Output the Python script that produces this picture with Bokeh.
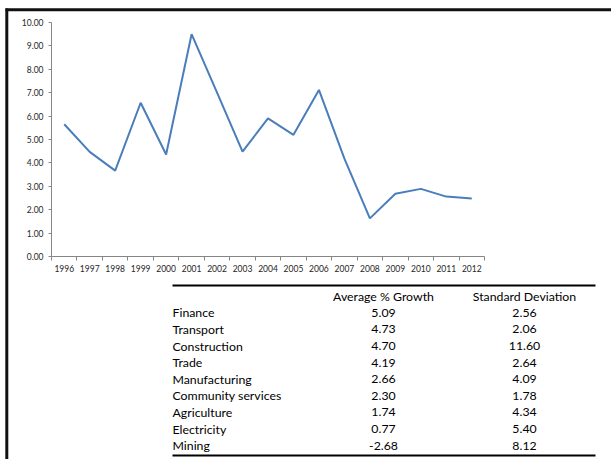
from bokeh.plotting import figure
from bokeh.models import Range1d, FixedTicker, NumeralTickFormatter
from bokeh.core.properties import value
from bokeh.embed import file_html
from bokeh.resources import INLINE

# ---- data ----
years = ["1996", "1997", "1998", "1999", "2000", "2001", "2002", "2003", "2004",
         "2005", "2006", "2007", "2008", "2009", "2010", "2011", "2012"]
growth = [5.65, 4.47, 3.67, 6.57, 4.36, 9.50, 7.00, 4.48, 5.90,
          5.20, 7.12, 4.18, 1.63, 2.68, 2.89, 2.56, 2.48]
y_ticks = [0, 1, 2, 3, 4, 5, 6, 7, 8, 9, 10]

sectors = ["Finance", " Transport", "Construction", " Trade", "Manufacturing",
           "Community services", "Agriculture", "Electricity", " Mining"]
avg_growth = [5.09, 4.73, 4.70, 4.19, 2.66, 2.30, 1.74, 0.77, -2.68]
std_dev = [2.56, 2.06, 11.60, 2.64, 4.09, 1.78, 4.34, 5.40, 8.12]
headers = ["Average % Growth", "Standard Deviation"]

FONT = "Lato"
AXIS_GRAY = "#868686"
LINE_BLUE = "#4A7EBB"

W, H = 611, 459
# chart plotting area in page pixels
PX_LEFT, PX_RIGHT, PX_TOP, PX_BOTTOM = 51.0, 484.0, 22.0, 256.0
n = len(years)
x0_data, x1_data = -0.5, n - 0.5
y0_data, y1_data = 0.0, 10.0
sx = (PX_RIGHT - PX_LEFT) / (x1_data - x0_data)
sy = (PX_BOTTOM - PX_TOP) / (y1_data - y0_data)
x_range = Range1d(x0_data - PX_LEFT / sx, x1_data + (W - PX_RIGHT) / sx)
y_range = Range1d(y0_data - (H - PX_BOTTOM) / sy, y1_data + PX_TOP / sy)

p = figure(width=W, height=H, x_range=x_range, y_range=y_range,
           min_border=0, toolbar_location=None, output_backend="svg")
p.extra_x_ranges = {"px": Range1d(0, W)}
p.extra_y_ranges = {"px": Range1d(H, 0)}
p.grid.grid_line_color = None
p.outline_line_color = None
p.background_fill_color = "white"
p.border_fill_color = "white"

# ---- page frame (left and top rule) ----
p.segment(x0=[6.3, 5], y0=[8, 9.3], x1=[6.3, W], y1=[H, 9.3],
          line_color="#111111", line_width=3,
          x_range_name="px", y_range_name="px")

# ---- line chart ----
xs = list(range(n))
p.line(x=xs, y=growth, line_color=LINE_BLUE, line_width=2)

xa = p.xaxis[0]
xa.fixed_location = y0_data
xa.bounds = (x0_data, x1_data)
xa.ticker = FixedTicker(ticks=xs, minor_ticks=[i - 0.5 for i in range(n + 1)])
xa.major_label_overrides = {i: y for i, y in enumerate(years)}
xa.major_tick_out = 0
xa.major_tick_in = 0
xa.minor_tick_out = 4
xa.minor_tick_in = 0
xa.minor_tick_line_color = AXIS_GRAY
xa.major_label_standoff = 4

ya = p.yaxis[0]
ya.fixed_location = x0_data
ya.bounds = (y0_data, y1_data)
ya.ticker = FixedTicker(ticks=y_ticks)
ya.formatter = NumeralTickFormatter(format="0.00")
ya.major_tick_out = 3
ya.major_tick_in = 0
ya.minor_tick_line_color = None
ya.major_label_standoff = 5

for ax in (xa, ya):
    ax.axis_line_color = AXIS_GRAY
    ax.major_tick_line_color = AXIS_GRAY
    ax.major_label_text_font = FONT
    ax.major_label_text_font_size = "8.5px"
    ax.major_label_text_color = "#262626"

# ---- table ----
row_y0, row_dy = 312.3, 16.6
header_y = 295.7
col_label_x, col_avg_x, col_sd_x = 172, 383, 524
rows_y = [row_y0 + i * row_dy for i in range(len(sectors))]

text_kw = dict(text_font=value(FONT), text_font_size="12.3px", text_color="black",
               text_baseline="middle", x_range_name="px", y_range_name="px")
p.text(x=[col_avg_x, col_sd_x], y=[header_y, header_y], text=headers,
       text_align="center", **text_kw)
p.text(x=[col_label_x] * len(sectors), y=rows_y, text=sectors,
       text_align="left", **text_kw)
p.text(x=[col_avg_x] * len(sectors), y=rows_y, text=[f"{v:.2f}" for v in avg_growth],
       text_align="center", **text_kw)
p.text(x=[col_sd_x] * len(sectors), y=rows_y, text=[f"{v:.2f}" for v in std_dev],
       text_align="center", **text_kw)
p.segment(x0=[172, 172], y0=[285, 455], x1=[595, 595], y1=[285, 455],
          line_color="black", line_width=2, x_range_name="px", y_range_name="px")

open("out.html", "w").write(file_html(p, INLINE))
